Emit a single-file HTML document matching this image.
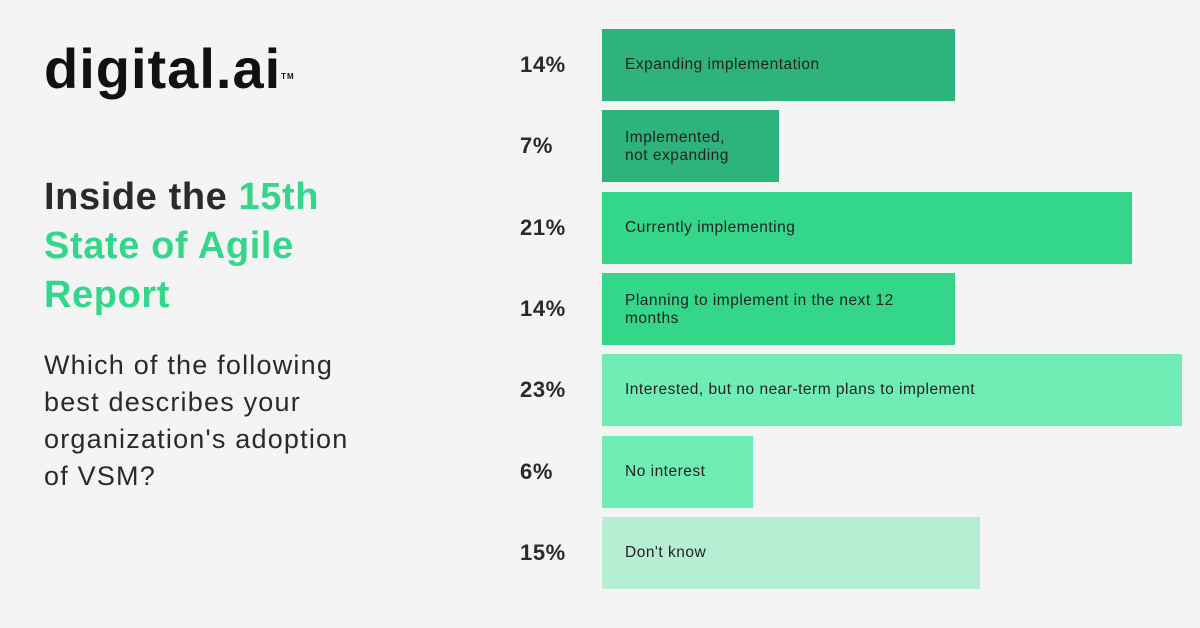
<!DOCTYPE html>
<html><head><meta charset="utf-8"><style>
body{margin:0;width:1200px;height:628px;background:#f4f4f4;font-family:"Liberation Sans",sans-serif;position:relative;overflow:hidden}
.logo{position:absolute;left:44px;top:36px;font-size:56px;font-weight:bold;color:#111;letter-spacing:1px;line-height:66px}
.logo sup{font-size:8px;vertical-align:top;position:relative;top:8px}
.title{position:absolute;left:44px;top:173px;font-size:38px;font-weight:bold;color:#2a2a2a;line-height:49px;letter-spacing:0.6px;white-space:nowrap}
.title span{color:#34d68a}
.q{position:absolute;left:44px;top:347px;font-size:27px;color:#2a2a2a;line-height:37px;letter-spacing:1.2px;white-space:nowrap}
.pct{position:absolute;left:520px;font-size:22px;font-weight:bold;color:#2a2a2a;letter-spacing:0.6px}
.bar{position:absolute;left:602px;height:72px}
.lbl{position:absolute;left:625px;font-size:15.5px;color:#222;line-height:18px;letter-spacing:0.5px}
</style></head><body>
<div class="logo">digital.ai<sup>TM</sup></div>
<div class="title">Inside the <span>15th<br>State of Agile<br>Report</span></div>
<div class="q">Which of the following<br>best describes your<br>organization's adoption<br>of VSM?</div>
<div id="chart"></div>
<script>
const categories=["Expanding implementation","Implemented,<br>not expanding","Currently implementing","Planning to implement in the next 12<br>months","Interested, but no near-term plans to implement","No interest","Don't know"];
const values=[14,7,21,14,23,6,15];
const colors=["#2eb37d","#2eb37d","#34d68a","#34d68a","#70edb5","#70edb5","#b5eed3"];
const chart=document.getElementById('chart');
const x=v=>v*25.22;
const y=i=>29+i*81.3;
values.forEach((v,i)=>{
  const b=document.createElement('div');b.className='bar';
  
  
  b.style.top=y(i)+'px';b.style.width=x(v)+'px';b.style.background=colors[i];
  chart.appendChild(b);
  const p=document.createElement('div');p.className='pct';
  
  
  p.style.top=(y(i)+23)+'px';p.textContent=v+'%';
  chart.appendChild(p);
  const l=document.createElement('div');l.className='lbl';
  
  
  const two=categories[i].includes('<br>');
  l.style.top=(y(i)+(two?19:27))+'px';l.innerHTML=categories[i];
  chart.appendChild(l);
});
</script>
</body></html>
